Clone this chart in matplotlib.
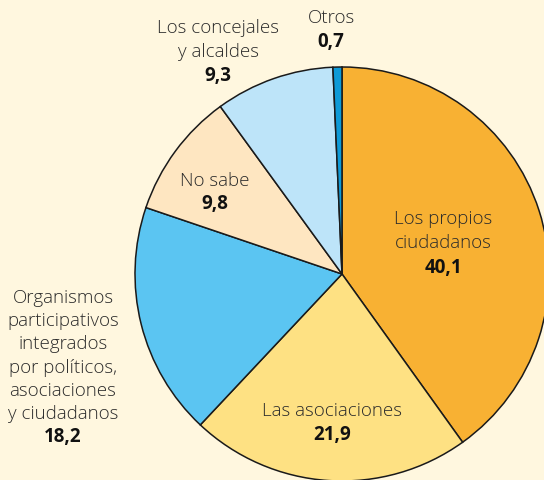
import matplotlib.pyplot as plt

# share of answers (%), clockwise from the top
labels = ["Los propios\nciudadanos", "Las asociaciones",
          "Organismos\nparticipativos\nintegrados\npor políticos,\nasociaciones\ny ciudadanos",
          "No sabe", "Los concejales\ny alcaldes", "Otros"]
values = [40.1, 21.9, 18.2, 9.8, 9.3, 0.7]
value_labels = ["40,1", "21,9", "18,2", "9,8", "9,3", "0,7"]
colors = ["#F8B133", "#FEE183", "#5BC5F2", "#FEE6C1", "#BDE4F9", "#0E9AD7"]

BG = "#FFF7DF"
TXT = "#2b2b2b"
FONT = ["Open Sans", "DejaVu Sans"]

fig = plt.figure(figsize=(5.44, 4.81), dpi=100, facecolor=BG)
ax = fig.add_axes([0, 0, 1, 1])
ax.set_facecolor(BG)

ax.pie(values, colors=colors, startangle=90, counterclock=False,
       center=(342, 206), radius=207, frame=True,
       wedgeprops=dict(edgecolor="#1a1a1a", linewidth=1.1))
ax.set_xlim(0, 544)
ax.set_ylim(0, 481)
ax.set_aspect("equal")
ax.axis("off")

# label anchors: x centre, baseline of first line, line step (image pixels)
label_pos = [(443, 224, 24.3), (332, 416, 24.0), (63, 303, 23.2),
             (215, 186, 23.5), (218, 33, 24.0), (331, 23, 24.5)]

for lab, val, (x, yb, step) in zip(labels, value_labels, label_pos):
    lines = lab.split("\n")
    for i, line in enumerate(lines):
        ax.text(x, 481 - (yb + i * step), line, ha="center", va="baseline",
                fontsize=13.5, family=FONT, fontweight="light", color=TXT)
    ax.text(x, 481 - (yb + len(lines) * step), val, ha="center", va="baseline",
            fontsize=13.5, family=FONT, fontweight="bold", color="#111111")

fig.savefig("out.png", dpi=100, facecolor=BG)
